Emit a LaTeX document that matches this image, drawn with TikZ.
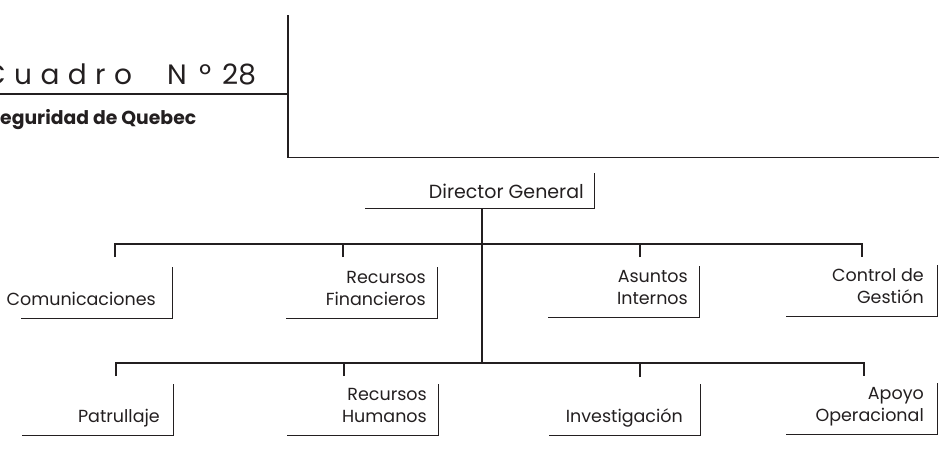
\documentclass[tikz,border=0pt]{standalone}
\usepackage{fontspec}
\setmainfont{Poppins}
\newfontfamily\spacedfont[LetterSpace=30]{Poppins}
\definecolor{ink}{HTML}{231F20}

\tikzset{
  unit/.style={inner sep=0pt, anchor=base east, text=ink,
               font=\fontsize{17.5}{22}\selectfont},
  heading/.style={inner sep=0pt, anchor=base west, text=ink,
               font=\fontsize{28}{32}\selectfont},
  frame/.style={draw=ink, line width=0.9pt},
  bus/.style={draw=ink, line width=2.6pt},
  trunk/.style={draw=ink, line width=2pt},
  rule/.style={draw=ink, line width=1.1pt},
}
% right-aligned two-line label whose baseline is the last line
\newcommand{\twoline}[2]{\begin{tabular}[b]{@{}r@{}}#1\\#2\end{tabular}}
% bar to the right of a label and the underline below it
\newcommand{\unitframe}[2]{%
  \draw[frame] ([shift={(#2pt,38pt)}]#1.base east)
    -- ([shift={(#2pt,-13pt)}]#1.base east) -- ++(-151pt,0pt);}

\begin{document}
\begin{tikzpicture}[x=1pt,y=-1pt]
  \useasboundingbox (0,0) rectangle (940,455);
  \clip (0,0) rectangle (940,455);

  % heading block
  \draw[rule] (288,15) -- (288,157.5) -- (939,157.5);
  \draw[rule] (0,94) -- (288,94);
  \node[heading] (cuadro) at (-16,84) {\spacedfont Cuadro};
  \node[heading] (nletter) at (167,84) {N};
  \node[heading] (ordinal) at (199,84) {º};
  \node[heading] (number) at (222,84) {28};
  \node[inner sep=0pt, anchor=base west, text=ink,
        font=\fontsize{18.8}{24}\selectfont\bfseries] (subtitle) at (0,124)
        {eguridad de Quebec};

  % director
  \node[unit, font=\fontsize{19}{22}\selectfont] (dg) at (584,198) {Director General};
  \draw[frame] ([shift={(10pt,25pt)}]dg.base east)
    -- ([shift={(10pt,-10.5pt)}]dg.base east) -- ++(-229pt,0pt);
  \coordinate (dgfoot) at (482,208);
  \coordinate (busA) at (482,244);
  \coordinate (busB) at (482,363);
  \draw[trunk] (dgfoot) -- (busB);

  % first row of units
  \node[unit] (com) at (156,305) {Comunicaciones};
  \node[unit] (rf)  at (426,305) {\twoline{Recursos}{Financieros}};
  \node[unit] (ai)  at (688,304) {\twoline{Asuntos}{Internos}};
  \node[unit] (cg)  at (924,303) {\twoline{Control de}{Gestión}};
  \unitframe{com}{16}
  \unitframe{rf}{11}
  \unitframe{ai}{11}
  \unitframe{cg}{13}

  \coordinate (com-in) at (115,257);
  \coordinate (rf-in)  at (343,257);
  \coordinate (ai-in)  at (640,257);
  \coordinate (cg-in)  at (862,257);
  \draw[bus] (com-in) -- (com-in |- busA) -- (cg-in |- busA) -- (cg-in);
  \draw[bus] (rf-in) -- (rf-in |- busA);
  \draw[bus] (ai-in) -- (ai-in |- busA);

  % second row of units
  \node[unit] (pat) at (160,422) {Patrullaje};
  \node[unit] (rh)  at (427,422) {\twoline{Recursos}{Humanos}};
  \node[unit] (inv) at (683,422) {Investigación};
  \node[unit] (ao)  at (924,421) {\twoline{Apoyo}{Operacional}};
  \unitframe{pat}{13}
  \unitframe{rh}{11}
  \unitframe{inv}{17}
  \unitframe{ao}{13}

  \coordinate (pat-in) at (116,376);
  \coordinate (rh-in)  at (344,376);
  \coordinate (inv-in) at (640,377);
  \coordinate (ao-in)  at (864,376);
  \draw[bus] (pat-in) -- (pat-in |- busB) -- (ao-in |- busB) -- (ao-in);
  \draw[bus] (rh-in) -- (rh-in |- busB);
  \draw[bus] (inv-in) -- (inv-in |- busB);
\end{tikzpicture}
\end{document}
